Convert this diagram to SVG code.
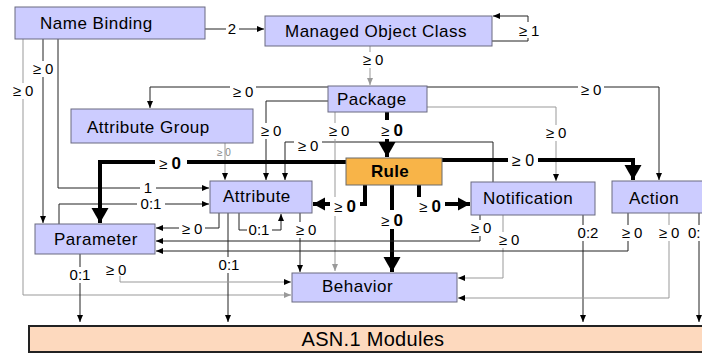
<svg xmlns="http://www.w3.org/2000/svg" width="702" height="354" viewBox="0 0 702 354">
<style>
.box{fill:#ccccff;stroke:#6a6a80;stroke-width:1}
.rule{fill:#f8b448;stroke:#6a6a6a;stroke-width:1}
.asn{fill:#fdd9be;stroke:#222;stroke-width:2}
.t{font-family:"Liberation Sans",Arial,sans-serif;font-size:17px;letter-spacing:0.5px;fill:#000}
.c{fill:none;stroke:#222;stroke-width:1}
.g{fill:none;stroke:#999;stroke-width:1}
.k{fill:none;stroke:#000;stroke-width:4}
.l{font-family:"Liberation Sans",Arial,sans-serif;font-size:15px;text-anchor:middle;fill:#000}
.b{font-weight:bold;font-size:17px}
.s{font-size:10px;fill:#888}
.bg{fill:#fff}
</style>
<defs>
<marker id="a" markerUnits="userSpaceOnUse" markerWidth="8" markerHeight="8" refX="7" refY="4" orient="auto"><path d="M0,1 L7,4 L0,7z" fill="#000"/></marker>
<marker id="ag" markerUnits="userSpaceOnUse" markerWidth="8" markerHeight="8" refX="7" refY="4" orient="auto"><path d="M0,1 L7,4 L0,7z" fill="#999"/></marker>
<marker id="A" markerUnits="userSpaceOnUse" markerWidth="18" markerHeight="18" refX="15" refY="9" orient="auto"><path d="M0,0.5 L15,9 L0,17.5z" fill="#000"/></marker>
<marker id="M" markerUnits="userSpaceOnUse" markerWidth="14" markerHeight="14" refX="12" refY="7" orient="auto"><path d="M0,0.5 L12,7 L0,13.5z" fill="#000"/></marker>
</defs>

<g id="connectors">
<path class="c" d="M205,29 H264" marker-end="url(#a)"/>
<path class="c" d="M492,41 H528 V16 H493" marker-end="url(#a)"/>
<path class="g" d="M370,46 V85" marker-end="url(#ag)"/>
<path class="g" d="M23,39 V295 H291" marker-end="url(#ag)"/>
<path class="c" d="M43,39 V223" marker-end="url(#a)"/>
<path class="c" d="M58,39 V188 H209" marker-end="url(#a)"/>
<path class="c" d="M59,224 V204 H209" marker-end="url(#a)"/>
<path class="c" d="M328,87 H150 V108" marker-end="url(#a)"/>
<path class="c" d="M427,87 H659 V180" marker-end="url(#a)"/>
<path class="g" d="M427,107 H556 V181" marker-end="url(#a)"/>
<path class="c" d="M328,101 H266 V180" marker-end="url(#a)"/>
<path class="c" d="M493,182 V142 H285 V180" marker-end="url(#a)"/>
<path class="g" d="M335,112 V271" marker-end="url(#ag)"/>
<path class="g" d="M225,143 V180" marker-end="url(#a)"/>
<path class="k" d="M387,112 V157" marker-end="url(#A)"/>
<path class="k" d="M346,162 H100 V223" marker-end="url(#A)"/>
<path class="k" d="M442,160 H633 V180" marker-end="url(#A)"/>
<path class="k" d="M365,185 V204 H313" marker-end="url(#M)"/>
<path class="k" d="M419,185 V204 H470" marker-end="url(#M)"/>
<path class="k" d="M392,185 V272" marker-end="url(#A)"/>
<path class="c" d="M219,213 V228 H156" marker-end="url(#a)"/>
<path class="c" d="M239,213 V230 H281 V214" marker-end="url(#a)"/>
<path class="c" d="M300,213 V272" marker-end="url(#a)"/>
<path class="c" d="M228,213 V322" marker-end="url(#a)"/>
<path class="c" d="M480,215 V241 H156" marker-end="url(#a)"/>
<path class="g" d="M503,215 V278 H458" marker-end="url(#a)"/>
<path class="c" d="M583,215 V322" marker-end="url(#a)"/>
<path class="c" d="M628,213 V251 H156" marker-end="url(#a)"/>
<path class="g" d="M669,213 V298 H458" marker-end="url(#a)"/>
<path class="c" d="M699,213 V322" marker-end="url(#a)"/>
<path class="c" d="M80,254 V322" marker-end="url(#a)"/>
<path class="g" d="M120,276 V282 H291" marker-end="url(#a)"/>

<g id="labels">
<rect class="bg" x="226" y="21" width="13" height="16"/><text class="l" x="232" y="34">2</text>
<rect class="bg" x="516" y="22" width="26" height="16"/><text class="l" x="529" y="36">≥ 1</text>
<rect class="bg" x="360" y="52" width="26" height="16"/><text class="l" x="373" y="65">≥ 0</text>
<rect class="bg" x="230" y="83" width="26" height="16"/><text class="l" x="243" y="97">≥ 0</text>
<rect class="bg" x="578" y="81" width="26" height="16"/><text class="l" x="591" y="95">≥ 0</text>
<rect class="bg" x="30" y="61" width="26" height="16"/><text class="l" x="43" y="74">≥ 0</text>
<rect class="bg" x="10" y="83" width="26" height="16"/><text class="l" x="23" y="96">≥ 0</text>
<rect class="bg" x="258" y="123" width="26" height="16"/><text class="l" x="271" y="136">≥ 0</text>
<rect class="bg" x="326" y="123" width="26" height="16"/><text class="l" x="339" y="136">≥ 0</text>
<rect class="bg" x="377" y="120" width="30" height="19"/><text class="l" x="392" y="136">≥ <tspan class="b">0</tspan></text>
<rect class="bg" x="294" y="138" width="28" height="16"/><text class="l" x="308" y="151">≥ 0</text>
<rect class="bg" x="543" y="125" width="26" height="16"/><text class="l" x="556" y="138">≥ 0</text>
<rect class="bg" x="155" y="153" width="32" height="20"/><text class="l" x="170" y="169">≥ <tspan class="b">0</tspan></text>
<text class="l s" x="224" y="156">≥ 0</text>
<rect class="bg" x="508" y="151" width="30" height="19"/><text class="l" x="523" y="166" style="font-size:16px">≥ 0</text>
<rect class="bg" x="140" y="180" width="16" height="16"/><text class="l" x="148" y="193">1</text>
<rect class="bg" x="137" y="196" width="28" height="16"/><text class="l" x="151" y="209">0:1</text>
<rect class="bg" x="330" y="197" width="30" height="19"/><text class="l" x="345" y="212">≥ <tspan class="b">0</tspan></text>
<rect class="bg" x="415" y="197" width="30" height="19"/><text class="l" x="430" y="212">≥ <tspan class="b">0</tspan></text>
<rect class="bg" x="377" y="210" width="30" height="19"/><text class="l" x="392" y="226">≥ <tspan class="b">0</tspan></text>
<rect class="bg" x="179" y="221" width="26" height="16"/><text class="l" x="192" y="234">≥ 0</text>
<rect class="bg" x="247" y="222" width="25" height="16"/><text class="l" x="259" y="235">0:1</text>
<rect class="bg" x="293" y="222" width="26" height="16"/><text class="l" x="306" y="235">≥ 0</text>
<rect class="bg" x="468" y="220" width="26" height="16"/><text class="l" x="481" y="233">≥ 0</text>
<rect class="bg" x="496" y="232" width="26" height="16"/><text class="l" x="509" y="245">≥ 0</text>
<rect class="bg" x="575" y="225" width="26" height="16"/><text class="l" x="588" y="238">0:2</text>
<rect class="bg" x="619" y="225" width="26" height="16"/><text class="l" x="632" y="238">≥ 0</text>
<rect class="bg" x="656" y="225" width="26" height="16"/><text class="l" x="669" y="238">≥ 0</text>
<rect class="bg" x="688" y="225" width="14" height="16"/><text class="l" x="688" y="238" style="text-anchor:start">0:</text>
<rect class="bg" x="216" y="257" width="26" height="16"/><text class="l" x="229" y="270">0:1</text>
<rect class="bg" x="67" y="267" width="26" height="16"/><text class="l" x="80" y="280">0:1</text>
<rect class="bg" x="103" y="262" width="26" height="14"/><text class="l" x="116" y="275">≥ 0</text>
</g>
</g>

<g id="name-binding"><rect class="box" x="15" y="7" width="190" height="32"/><text class="t" x="40" y="29">Name Binding</text></g>
<g id="managed-object-class"><rect class="box" x="265" y="16" width="227" height="30"/><text class="t" x="285" y="37">Managed Object Class</text></g>
<g id="package"><rect class="box" x="328" y="86" width="99" height="26"/><text class="t" x="337" y="105">Package</text></g>
<g id="attribute-group"><rect class="box" x="71" y="109" width="182" height="34"/><text class="t" x="87" y="133">Attribute Group</text></g>
<g id="rule"><rect class="rule" x="346" y="158" width="96" height="27"/><text class="t" x="371" y="177" style="font-weight:bold;letter-spacing:0.3px">Rule</text></g>
<g id="attribute"><rect class="box" x="210" y="181" width="102" height="32"/><text class="t" x="223" y="202">Attribute</text></g>
<g id="notification"><rect class="box" x="471" y="182" width="124" height="33"/><text class="t" x="483" y="204">Notification</text></g>
<g id="action"><rect class="box" x="612" y="181" width="100" height="32"/><text class="t" x="629" y="204">Action</text></g>
<g id="parameter"><rect class="box" x="35" y="224" width="120" height="30"/><text class="t" x="54" y="245">Parameter</text></g>
<g id="behavior"><rect class="box" x="292" y="273" width="165" height="29"/><text class="t" x="322" y="292">Behavior</text></g>
<g id="asn1-modules"><rect class="asn" x="29" y="326" width="690" height="26"/><text class="t" x="373" y="346" style="font-size:20px;text-anchor:middle;letter-spacing:0.3px">ASN.1 Modules</text></g>
</svg>
